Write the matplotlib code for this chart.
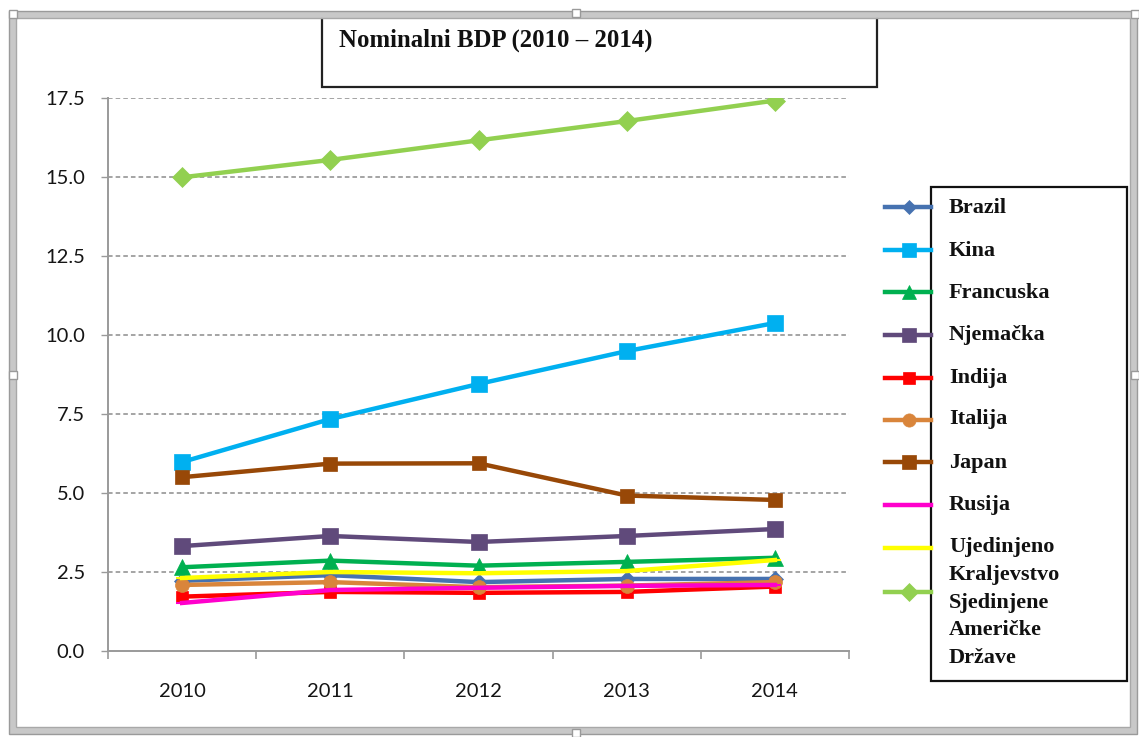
import matplotlib
matplotlib.use("Agg")
import matplotlib.pyplot as plt
from matplotlib.lines import Line2D
from matplotlib.patches import Rectangle

# ---------------- data ----------------
years = ["2010", "2011", "2012", "2013", "2014"]
countries = ["Brazil", "Kina", "Francuska", "Njemačka", "Indija", "Italija",
             "Japan", "Rusija", "Ujedinjeno Kraljevstvo", "Sjedinjene Američke Države"]
brazil = [2.22, 2.40, 2.18, 2.28, 2.28]
kina = [5.98, 7.34, 8.45, 9.49, 10.38]
francuska = [2.65, 2.86, 2.70, 2.82, 2.95]
njemacka = [3.32, 3.64, 3.45, 3.64, 3.86]
indija = [1.72, 1.87, 1.84, 1.87, 2.04]
italija = [2.09, 2.18, 2.02, 2.07, 2.18]
japan = [5.50, 5.93, 5.94, 4.92, 4.78]
rusija = [1.52, 1.93, 2.00, 2.06, 2.09]
uk = [2.31, 2.50, 2.46, 2.53, 2.88]
usa = [14.99, 15.54, 16.16, 16.77, 17.42]
series = [brazil, kina, francuska, njemacka, indija, italija, japan, rusija, uk, usa]
yticks = [0.0, 2.5, 5.0, 7.5, 10.0, 12.5, 15.0, 17.5]
title = "Nominalni BDP (2010 – 2014)"
legend_lines = [["Brazil"], ["Kina"], ["Francuska"], ["Njemačka"], ["Indija"],
                ["Italija"], ["Japan"], ["Rusija"], ["Ujedinjeno", "Kraljevstvo"],
                ["Sjedinjene", "Američke", "Države"]]

# ---------------- styles ----------------
styles = [
    dict(color="#4672B0", marker="D", ms=8),
    dict(color="#00B0F0", marker="s", ms=11),
    dict(color="#00B050", marker="^", ms=11),
    dict(color="#604A7B", marker="s", ms=11),
    dict(color="#FF0000", marker="s", ms=9),
    dict(color="#D9853B", marker="o", ms=10),
    dict(color="#984807", marker="s", ms=10),
    dict(color="#FF00CC", marker="_", ms=8),
    dict(color="#FFFF00", marker="_", ms=8),
    dict(color="#92D050", marker="D", ms=10),
]

W, H = 1139, 737
fig = plt.figure(figsize=(W / 100, H / 100), dpi=100)
fig.patch.set_facecolor("white")

def fx(px):
    return px / W

def fy(py):
    return 1 - py / H

ax_l, ax_r, ax_t, ax_b = 108, 849, 98, 651
ax = fig.add_axes([fx(ax_l), fy(ax_b), (ax_r - ax_l) / W, (ax_b - ax_t) / H])

x = list(range(len(years)))
for i, (vals, st) in enumerate(zip(series, styles)):
    ax.plot(x, vals, color=st["color"], lw=3.2, marker=st["marker"],
            ms=st["ms"], mew=1.5 if st["marker"] == "_" else 0.5,
            mec=st["color"], zorder=3 + i, solid_joinstyle="round")

ax.set_xlim(-0.5, len(years) - 0.5)
ax.set_ylim(0, 17.5)
ax.set_yticks(yticks)
ax.set_yticklabels([f"{v:.1f}" for v in yticks])
ax.set_xticks(x)
ax.set_xticklabels(years)
ax.set_xticks([i - 0.5 for i in range(len(years) + 1)], minor=True)
ax.tick_params(axis="x", which="major", length=0, pad=23)
ax.tick_params(axis="x", which="minor", length=6, width=1.2, color="#9a9a9a", direction="out")
ax.tick_params(axis="y", length=5, width=1.0, color="#9a9a9a", pad=11.5)
for lab in ax.get_xticklabels() + ax.get_yticklabels():
    lab.set_fontfamily("Lato")
    lab.set_fontsize(14.5)
    lab.set_color("#151515")

for v in yticks[1:]:
    ax.axhline(v, color="#8c8c8c", lw=1.1, ls=(0, (3, 2)), zorder=1)

for s in ["top", "right"]:
    ax.spines[s].set_visible(False)
for s in ["left", "bottom"]:
    ax.spines[s].set_color("#9a9a9a")
    ax.spines[s].set_linewidth(1.4)

# ---------------- title box ----------------
fig.add_artist(Rectangle((fx(322), fy(87)), (877 - 322) / W, (87 - 16) / H,
                         transform=fig.transFigure, fill=False, ec="#222222", lw=1.6))
fig.text(fx(339), fy(40), title, ha="left", va="center", fontsize=17.8,
         fontweight="bold", family="Liberation Serif", color="#111111")

# ---------------- legend ----------------
handle_y = [207, 250, 292, 335, 378, 420, 462, 505, 548, 592]
for (st, hy) in zip(styles, handle_y):
    fig.add_artist(Line2D([fx(885), fx(931)], [fy(hy), fy(hy)], transform=fig.transFigure,
                          color=st["color"], lw=3.2))
    fig.add_artist(Line2D([fx(909)], [fy(hy)], transform=fig.transFigure,
                          color=st["color"], marker=st["marker"], ms=st["ms"] * 0.95,
                          mew=1.5 if st["marker"] == "_" else 0.5, mec=st["color"], lw=0))
fig.add_artist(Rectangle((fx(931), fy(681)), (1127 - 931) / W, (681 - 187) / H,
                         transform=fig.transFigure, fill=False, ec="#111111", lw=1.6))
text_y = [208, 251, 293, 335, 378, 419, 463, 505]
for lines, ty in zip(legend_lines[:8], text_y):
    fig.text(fx(949), fy(ty), lines[0], ha="left", va="center", fontsize=16,
             fontweight="bold", family="Liberation Serif", color="#111111")
extra_y = [547, 575, 603, 630, 658]
extra_lines = legend_lines[8] + legend_lines[9]
for t, ty in zip(extra_lines, extra_y):
    fig.text(fx(949), fy(ty), t, ha="left", va="center", fontsize=16,
             fontweight="bold", family="Liberation Serif", color="#111111")

# ---------------- outer chart-area frame ----------------
fig.add_artist(Rectangle((fx(12), fy(731)), (1134 - 12) / W, (731 - 14) / H,
                         transform=fig.transFigure, fill=False, ec="#c8c8c8", lw=5))
fig.add_artist(Rectangle((fx(9), fy(734)), (1137 - 9) / W, (734 - 11) / H,
                         transform=fig.transFigure, fill=False, ec="#9a9a9a", lw=1))
fig.add_artist(Rectangle((fx(16), fy(727)), (1130 - 16) / W, (727 - 18) / H,
                         transform=fig.transFigure, fill=False, ec="#a8a8a8", lw=1))
for (hx, hy) in [(13, 14), (576, 13), (1135, 14), (13, 375), (1135, 375), (576, 733)]:
    fig.add_artist(Rectangle((fx(hx - 4), fy(hy + 4)), 8 / W, 8 / H, transform=fig.transFigure,
                             fc="white", ec="#9a9a9a", lw=1))

fig.savefig("out.png", dpi=100)
